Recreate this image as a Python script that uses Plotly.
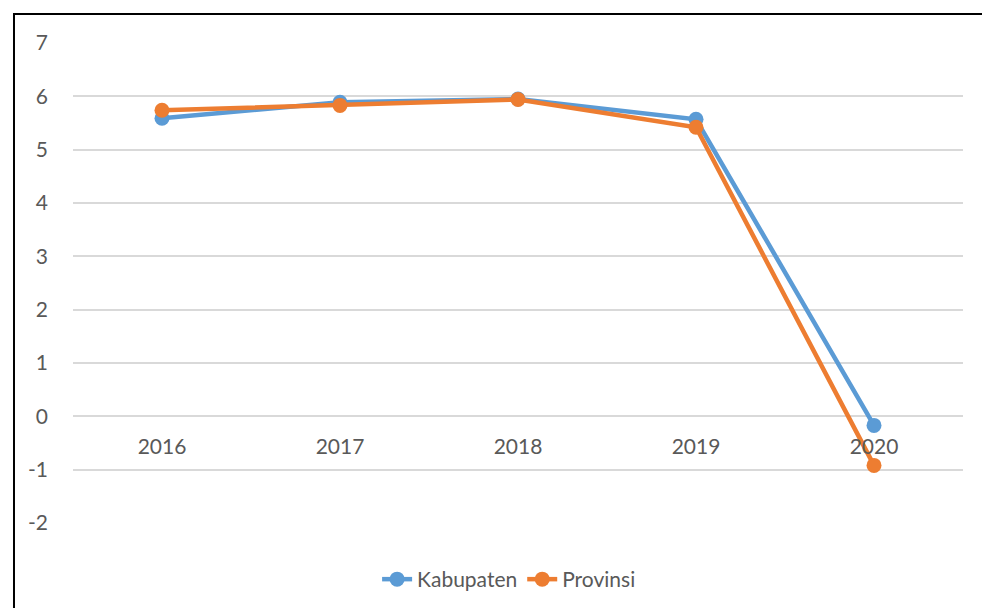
import plotly.graph_objects as go

years = ["2016", "2017", "2018", "2019", "2020"]
kabupaten = [5.59, 5.89, 5.95, 5.57, -0.17]
provinsi = [5.74, 5.83, 5.94, 5.42, -0.92]
y_ticks = [-2, -1, 0, 1, 2, 3, 4, 5, 6, 7]
y_tick_labels = ["-2", "-1", "0", "1", "2", "3", "4", "5", "6", "7"]

BLUE = "#5B9BD5"
ORANGE = "#ED7D31"
FONT = "Lato"
GREY = "#595959"
FS = 21

fig = go.Figure()
fig.add_trace(go.Scatter(x=years, y=kabupaten, name="Kabupaten", mode="lines+markers",
                         line=dict(color=BLUE, width=4.5), marker=dict(size=15, color=BLUE)))
fig.add_trace(go.Scatter(x=years, y=provinsi, name="Provinsi", mode="lines+markers",
                         line=dict(color=ORANGE, width=4.5), marker=dict(size=15, color=ORANGE)))

y_min, y_max = -2, 7
zero_pos = (0 - y_min) / (y_max - y_min)

fig.add_shape(type="rect", xref="paper", yref="paper", x0=-0.0663, x1=1.05, y0=-0.25, y1=1.0604,
              line=dict(color="black", width=2), fillcolor="rgba(0,0,0,0)", layer="below")

fig.update_layout(
    width=990, height=608,
    margin=dict(l=65, r=35, t=35, b=93),
    plot_bgcolor="white", paper_bgcolor="white",
    font=dict(family=FONT, size=FS, color=GREY),
    showlegend=True,
    legend=dict(orientation="h", x=0.49, xanchor="center", y=-0.075, yanchor="top",
                font=dict(family=FONT, size=FS, color=GREY)),
    xaxis=dict(type="category", range=[-0.5, 4.5], showticklabels=True, showgrid=False,
               zeroline=False, showline=False, ticks="", anchor="free", position=zero_pos,
               ticklabelstandoff=16, tickfont=dict(family=FONT, size=FS, color=GREY)),
    yaxis=dict(range=[y_min, y_max], tickvals=y_ticks, ticktext=y_tick_labels, showgrid=True,
               gridcolor="#D9D9D9", gridwidth=1.5,
               zeroline=False, showline=False, ticks="", ticklabelstandoff=24,
               tickfont=dict(family=FONT, size=FS, color=GREY)),
)

fig.write_html("out.html")
